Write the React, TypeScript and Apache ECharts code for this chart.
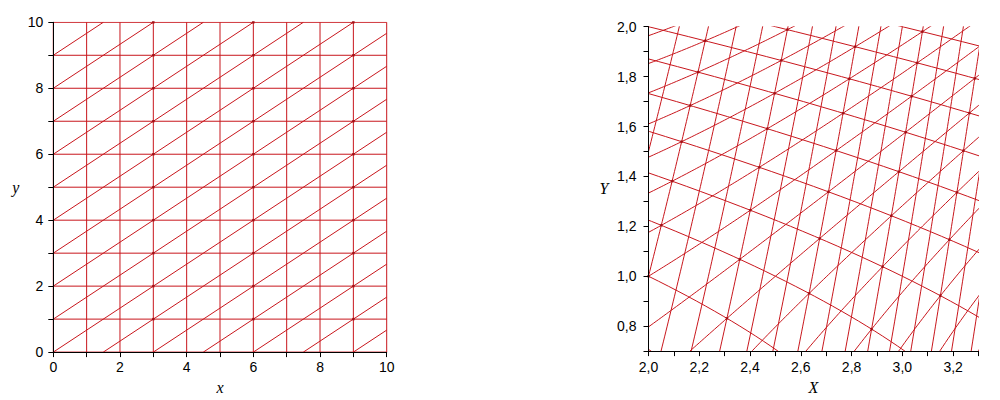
import React, { useEffect, useRef } from "react";
import * as echarts from "echarts";

// ---------- Left panel: lattice in the (x, y) plane ----------
const LEFT_X_LINES = [0, 1, 2, 3, 4, 5, 6, 7, 8, 9, 10];
const LEFT_Y_LINES = [0, 1, 2, 3, 4, 5, 6, 7, 8, 9, 10];
// diagonals  y = 2x/3 + k
const LEFT_DIAG_OFFSETS = [-6, -5, -4, -3, -2, -1, 0, 1, 2, 3, 4, 5, 6, 7, 8, 9];
const DIAG_SLOPE = 2 / 3;
// points where three lines meet (drawn slightly darker)
const LEFT_TRIPLE_X = [3, 6, 9];
const LEFT_TRIPLE_Y = [1, 2, 3, 4, 5, 6, 7, 8, 9, 10];
const LEFT_TICK_LABELS = ["0", "2", "4", "6", "8", "10"];

// ---------- Right panel: the lattice after the change of variables ----------
// "vertical" lines:   X^2 - Y = c
const RIGHT_C_LEVELS = [2, 2.5, 3, 3.5, 4, 4.5, 5, 5.5, 6, 6.5, 7, 7.5, 8, 8.5, 9, 9.5, 10];
// "horizontal" lines: Y^2 + X = d
const RIGHT_D_LEVELS = [2.5, 3, 3.5, 4, 4.5, 5, 5.5, 6, 6.5, 7];
// diagonals:          3(Y^2 + X) - 2(X^2 - Y) = e
const RIGHT_E_LEVELS = [-9, -7.5, -6, -4.5, -3, -1.5, 0, 1.5, 3, 4.5, 6, 7.5, 9, 10.5, 12, 13.5];
// "vertical" lines carrying triple crossings
const RIGHT_TRIPLE_C = [3, 4.5, 6, 7.5, 9];
const RIGHT_X_TICK_LABELS = ["2,0", "2,2", "2,4", "2,6", "2,8", "3,0", "3,2"];
const RIGHT_Y_TICK_LABELS = ["0,8", "1,0", "1,2", "1,4", "1,6", "1,8", "2,0"];

const RED = "#c8161c";
const DOT = "#9a0a10";

function buildSeries() {
  const series: any[] = [];
  const lineStyle = { color: RED, width: 1 };
  const addLine = (idx: number, pts: number[][]) => {
    series.push({
      type: "line",
      xAxisIndex: idx,
      yAxisIndex: idx,
      data: pts,
      showSymbol: false,
      symbol: "none",
      lineStyle,
      silent: true,
      clip: true,
      z: 2,
    });
  };

  // left lattice
  LEFT_X_LINES.forEach((x) => addLine(0, [[x, 0], [x, 10]]));
  LEFT_Y_LINES.forEach((y) => addLine(0, [[0, y], [10, y]]));
  LEFT_DIAG_OFFSETS.forEach((k) => {
    const xs = Math.max(0, -k / DIAG_SLOPE);
    const xe = Math.min(10, (10 - k) / DIAG_SLOPE);
    addLine(0, [[xs, k + DIAG_SLOPE * xs], [xe, k + DIAG_SLOPE * xe]]);
  });
  const leftDots: number[][] = [];
  LEFT_TRIPLE_X.forEach((x) => LEFT_TRIPLE_Y.forEach((y) => leftDots.push([x, y])));
  series.push({
    type: "scatter", xAxisIndex: 0, yAxisIndex: 0, data: leftDots,
    symbol: "rect", symbolSize: 2.5, itemStyle: { color: DOT }, silent: true, z: 3,
  });

  // right lattice (curves of the mapped grid)
  const ySteps: number[] = [];
  for (let i = 0; i <= 80; i++) ySteps.push(0.6 + i * 0.02);
  const xSteps: number[] = [];
  for (let i = 0; i <= 150; i++) xSteps.push(1.9 + i * 0.01);

  RIGHT_C_LEVELS.forEach((c) => addLine(1, ySteps.map((Y) => [Math.sqrt(c + Y), Y])));
  RIGHT_D_LEVELS.forEach((d) => addLine(1, ySteps.map((Y) => [d - Y * Y, Y])));
  RIGHT_E_LEVELS.forEach((e) => {
    const pts: number[][] = [];
    xSteps.forEach((X) => {
      const disc = 4 + 12 * (e + 2 * X * X - 3 * X);
      if (disc < 0) return;
      const Y = (-2 + Math.sqrt(disc)) / 6;
      if (Y < 0) return;
      pts.push([X, Y]);
    });
    if (pts.length > 1) addLine(1, pts);
  });
  const rightDots: number[][] = [];
  RIGHT_TRIPLE_C.forEach((c) =>
    RIGHT_D_LEVELS.forEach((d) => {
      const f = (Y: number) => (d - Y * Y) * (d - Y * Y) - Y - c;
      let lo = 0, hi = Math.sqrt(d);
      if (f(lo) <= 0) return;
      for (let it = 0; it < 60; it++) {
        const mid = (lo + hi) / 2;
        if (f(mid) > 0) lo = mid; else hi = mid;
      }
      const Y = (lo + hi) / 2;
      rightDots.push([d - Y * Y, Y]);
    })
  );
  series.push({
    type: "scatter", xAxisIndex: 1, yAxisIndex: 1, data: rightDots,
    symbol: "rect", symbolSize: 2.5, itemStyle: { color: DOT }, silent: true, clip: true, z: 3,
  });
  return series;
}

const tickFont = { fontFamily: "Liberation Sans, Arial, sans-serif", fontSize: 14, color: "#000" };
const nameFont = { fontFamily: "Liberation Serif, Times New Roman, serif", fontStyle: "italic", fontSize: 16, color: "#000" };
const axisLine = { show: true, onZero: false, lineStyle: { color: "#000", width: 1 } };
const axisTick = { show: true, length: 5, lineStyle: { color: "#000", width: 1 } };

export default function App() {
  const ref = useRef<HTMLDivElement>(null);
  useEffect(() => {
    if (!ref.current) return;
    const chart = echarts.init(ref.current, null, { renderer: "svg" });
    const fmtLeft = (v: number) => {
      const s = String(Math.round(v));
      return LEFT_TICK_LABELS.includes(s) ? s : "";
    };
    const fmtRight = (list: string[]) => (v: number) => {
      const s = v.toFixed(1).replace(".", ",");
      return list.includes(s) ? s : "";
    };
    chart.setOption({
      animation: false,
      backgroundColor: "#fff",
      grid: [
        { left: 53.3, top: 22.3, width: 333.4, height: 333.4 },
        { left: 648.5, top: 26.7, width: 330, height: 329 },
      ],
      xAxis: [
        {
          type: "value", gridIndex: 0, min: 0, max: 10, interval: 1, z: 5,
          axisLine, axisTick, splitLine: { show: false },
          axisLabel: { ...tickFont, margin: 8, formatter: fmtLeft },
          name: "x", nameLocation: "middle", nameGap: 23, nameTextStyle: nameFont,
        },
        {
          type: "value", gridIndex: 1, min: 2, max: 3.3, interval: 0.1, z: 5,
          axisLine, axisTick, splitLine: { show: false },
          axisLabel: { ...tickFont, margin: 9, formatter: fmtRight(RIGHT_X_TICK_LABELS) },
          name: "X", nameLocation: "middle", nameGap: 23, nameTextStyle: nameFont,
        },
      ],
      yAxis: [
        {
          type: "value", gridIndex: 0, min: 0, max: 10, interval: 1, z: 5,
          axisLine, axisTick, splitLine: { show: false },
          axisLabel: { ...tickFont, margin: 10, formatter: fmtLeft },
          name: "y", nameLocation: "middle", nameRotate: 0, nameGap: 34, nameTextStyle: nameFont,
        },
        {
          type: "value", gridIndex: 1, min: 0.7, max: 2.0, interval: 0.1, z: 5,
          axisLine, axisTick, splitLine: { show: false },
          axisLabel: { ...tickFont, margin: 12, formatter: fmtRight(RIGHT_Y_TICK_LABELS) },
          name: "Y", nameLocation: "middle", nameRotate: 0, nameGap: 40, nameTextStyle: nameFont,
        },
      ],
      series: buildSeries(),
    });
    return () => chart.dispose();
  }, []);
  return (
    <div
      ref={ref}
      style={{ position: "absolute", left: 0, top: 0, width: 1000, height: 400, background: "#fff" }}
    />
  );
}
